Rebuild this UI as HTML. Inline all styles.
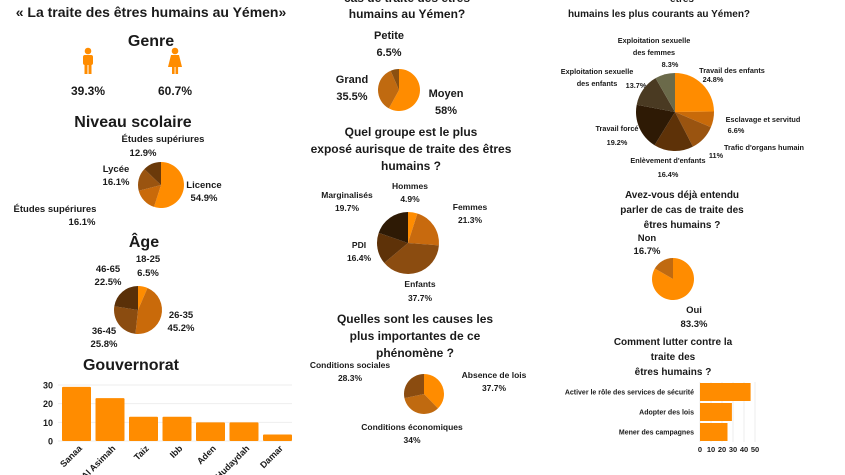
<!DOCTYPE html>
<html><head><meta charset="utf-8">
<style>
html,body{margin:0;padding:0;background:#fff;}
svg{display:block;font-family:"Liberation Sans",sans-serif;font-weight:bold;}
text{fill:#1a1a1a;}
</style></head>
<body>
<svg id="root" width="845" height="475" viewBox="0 0 845 475">
<g font-size="13.5" text-anchor="middle">
<text x="151" y="17" font-size="14">« La traite des êtres humains au Yémen»</text>
<text x="151" y="46" font-size="16">Genre</text>
<text x="133" y="127" font-size="16">Niveau scolaire</text>
<text x="144" y="247" font-size="16">Âge</text>
<text x="131" y="370" font-size="16">Gouvernorat</text>
<text x="407" y="2" font-size="12">cas de traite des êtres</text>
<text x="407" y="18" font-size="12">humains au Yémen?</text>
<text x="411" y="136" font-size="12">Quel groupe est le plus</text>
<text x="411" y="153" font-size="12">exposé aurisque de traite des êtres</text>
<text x="411" y="170" font-size="12">humains ?</text>
<text x="415" y="323" font-size="12">Quelles sont les causes les</text>
<text x="415" y="340" font-size="12">plus importantes de ce</text>
<text x="415" y="357" font-size="12">phénomène ?</text>
<text x="682" y="2" font-size="10">êtres</text>
<text x="659" y="17" font-size="10">humains les plus courants au Yémen?</text>
<text x="682" y="198" font-size="10">Avez-vous déjà entendu</text>
<text x="682" y="213" font-size="10">parler de cas de traite des</text>
<text x="682" y="228" font-size="10">êtres humains ?</text>
<text x="673" y="345" font-size="10">Comment lutter contre la</text>
<text x="673" y="360" font-size="10">traite des</text>
<text x="673" y="375" font-size="10">êtres humains ?</text>
</g>
<g fill="#ff8c00">
<circle cx="88" cy="51" r="3.3" fill="#ff8c00"/>
<rect x="83" y="55" width="10" height="10" rx="2" fill="#ff8c00"/>
<rect x="84.5" y="63" width="3" height="11" fill="#ff8c00"/><rect x="88.5" y="63" width="3" height="11" fill="#ff8c00"/>
</g>
<g>
<circle cx="175" cy="51" r="3.3" fill="#ff8c00"/>
<polygon points="171,55 179,55 182,67 168,67" fill="#ff8c00"/>
<rect x="172" y="66" width="2.6" height="8" fill="#ff8c00"/><rect x="175.5" y="66" width="2.6" height="8" fill="#ff8c00"/>
</g>
<g font-size="11" text-anchor="middle">
<text x="88" y="95" font-size="12">39.3%</text><text x="175" y="95" font-size="12">60.7%</text>
<text x="163" y="142" font-size="9.5">Études supériures</text><text x="143" y="156" font-size="9.5">12.9%</text>
<text x="116" y="172" font-size="9.5">Lycée</text><text x="116" y="185" font-size="9.5">16.1%</text>
<text x="204" y="188" font-size="9.5">Licence</text><text x="204" y="201" font-size="9.5">54.9%</text>
<text x="55" y="212" font-size="9.5">Études supériures</text><text x="82" y="225" font-size="9.5">16.1%</text>
<text x="148" y="262" font-size="9.5">18-25</text><text x="148" y="276" font-size="9.5">6.5%</text>
<text x="108" y="272" font-size="9.5">46-65</text><text x="108" y="285" font-size="9.5">22.5%</text>
<text x="181" y="318" font-size="9.5">26-35</text><text x="181" y="331" font-size="9.5">45.2%</text>
<text x="104" y="334" font-size="9.5">36-45</text><text x="104" y="347" font-size="9.5">25.8%</text>
<text x="389" y="39">Petite</text><text x="389" y="56">6.5%</text>
<text x="352" y="83">Grand</text><text x="352" y="100">35.5%</text>
<text x="446" y="97">Moyen</text><text x="446" y="114">58%</text>
<text x="410" y="189" font-size="8.5">Hommes</text><text x="410" y="202" font-size="8.5">4.9%</text>
<text x="347" y="198" font-size="8.5">Marginalisés</text><text x="347" y="211" font-size="8.5">19.7%</text>
<text x="470" y="210" font-size="8.5">Femmes</text><text x="470" y="223" font-size="8.5">21.3%</text>
<text x="359" y="248" font-size="8.5">PDI</text><text x="359" y="261" font-size="8.5">16.4%</text>
<text x="420" y="287" font-size="8.5">Enfants</text><text x="420" y="301" font-size="8.5">37.7%</text>
<text x="350" y="368" font-size="8.5">Conditions sociales</text><text x="350" y="381" font-size="8.5">28.3%</text>
<text x="494" y="378" font-size="8.5">Absence de lois</text><text x="494" y="391" font-size="8.5">37.7%</text>
<text x="412" y="430" font-size="8.5">Conditions économiques</text><text x="412" y="443" font-size="8.5">34%</text>
<g font-size="7.3">
<text x="654" y="43">Exploitation sexuelle</text><text x="654" y="55">des femmes</text><text x="670" y="67">8.3%</text>
<text x="597" y="74">Exploitation sexuelle</text><text x="597" y="86">des enfants</text><text x="636" y="88">13.7%</text>
<text x="732" y="73">Travail des enfants</text><text x="713" y="82">24.8%</text>
<text x="763" y="122">Esclavage et servitud</text><text x="736" y="133">6.6%</text>
<text x="617" y="131">Travail forcé</text><text x="617" y="145">19.2%</text>
<text x="764" y="150">Trafic d'organs humain</text><text x="716" y="158">11%</text>
<text x="668" y="163">Enlèvement d'enfants</text><text x="668" y="177">16.4%</text>
</g>
<text x="647" y="241" font-size="9.5">Non</text><text x="647" y="254" font-size="9.5">16.7%</text>
<text x="694" y="313" font-size="9.5">Oui</text><text x="694" y="327" font-size="9.5">83.3%</text>
</g>
<g id="pies"></g>
<g id="gov"></g>
<g id="lut"></g>
</svg>
<script>
const NS="http://www.w3.org/2000/svg";
const niveauValues=[54.9,16.1,16.1,12.9];
const ageValues=[6.5,45.2,25.8,22.5];
const tailleValues=[58,35.5,6.5];
const groupeValues=[4.9,21.3,37.7,16.4,19.7];
const causesValues=[37.7,34,28.3];
const formesValues=[24.8,6.6,11,16.4,19.2,13.7,8.3];
const entenduValues=[83.3,16.7];
const govCategories=["Sanaa","Al Asimah","Taiz","Ibb","Aden","Al Hudaydah","Damar"];
const govValues=[29,23,13,13,10,10,3.5];
const govTicks=[0,10,20,30];
const lutCategories=["Activer le rôle des services de sécurité","Adopter des lois","Mener des campagnes"];
const lutValues=[46,29,25];
const lutTicks=[0,10,20,30,40,50];

function mk(tag,attrs,parent){const e=document.createElementNS(NS,tag);for(const k in attrs)e.setAttribute(k,attrs[k]);parent.appendChild(e);return e;}
const pies=document.getElementById('pies');
function pie(name,vals,cx,cy,r,colors){
  const g=mk('g',{},pies);
  
  
  const tot=vals.reduce((a,b)=>a+b,0);let a0=-Math.PI/2;
  vals.forEach((v,i)=>{
    const a1=a0+v/tot*2*Math.PI;
    const x0=cx+r*Math.cos(a0),y0=cy+r*Math.sin(a0),x1=cx+r*Math.cos(a1),y1=cy+r*Math.sin(a1);
    const p=mk('path',{d:`M${cx},${cy}L${x0},${y0}A${r},${r} 0 ${a1-a0>Math.PI?1:0} 1 ${x1},${y1}Z`,fill:colors[i]},g);
    
    
    a0=a1;
  });
}
pie('niveau-pie',niveauValues,161,185,23,['#ff8c00','#c96a0a','#9a5410','#6b3a0a']);
pie('age-pie',ageValues,138,310,24,['#ff8c00','#c96a0a','#8b4c10','#5a3008']);
pie('taille-pie',tailleValues,399,90,21,['#ff8c00','#c06a10','#8b5010']);
pie('groupe-pie',groupeValues,408,243,31,['#ff8c00','#c86a0e','#8b4c10','#5e3208','#2e1a05']);
pie('causes-pie',causesValues,424,394,20,['#ff8c00','#c06a10','#8b4c10']);
pie('formes-pie',formesValues,675,112,39,['#ff8c00','#c86a0a','#9a5410','#5e3208','#2e1a05','#4a3a22','#6b6a4a']);
pie('entendu-pie',entenduValues,673,279,21,['#ff8c00','#c06a10']);

const gov=document.getElementById('gov');
const gy=v=>441-v*(56/30);
const step=33.5,gx0=62,bw=29;
govTicks.forEach(t=>{
  const l=mk('line',{x1:58,x2:292,y1:gy(t),y2:gy(t),stroke:'#eee'},gov);
  
  
  const tx=mk('text',{x:53,y:gy(t)+3.5,'text-anchor':'end','font-size':9},gov);tx.textContent=t;
  
  
});
govValues.forEach((v,i)=>{
  const x=gx0+i*step;
  const r=mk('rect',{x:x,y:gy(v),width:bw,height:441-gy(v),fill:'#ff8c00',rx:1},gov);
  
  
  const cxp=x+bw/2+6,cyp=449;
  const t=mk('text',{x:cxp,y:cyp,'text-anchor':'end','font-size':9,transform:`rotate(-45 ${cxp} ${cyp})`},gov);
  t.textContent=govCategories[i];
  
  
});

const lut=document.getElementById('lut');
const lx=v=>700+v*(55/50);
lutTicks.forEach(t=>{
  const l=mk('line',{x1:lx(t),x2:lx(t),y1:382,y2:442,stroke:'#eee'},lut);
  
  
  const tx=mk('text',{x:lx(t),y:452,'text-anchor':'middle','font-size':7.5},lut);tx.textContent=t;
  
  
});
lutValues.forEach((v,i)=>{
  const cy=392+i*20;
  const r=mk('rect',{x:700,y:cy-9,width:lx(v)-700,height:18,fill:'#ff8c00'},lut);
  
  
  const t=mk('text',{x:694,y:cy+2.5,'text-anchor':'end','font-size':7},lut);
  t.textContent=lutCategories[i];
  
  
});
</script>
</body></html>
